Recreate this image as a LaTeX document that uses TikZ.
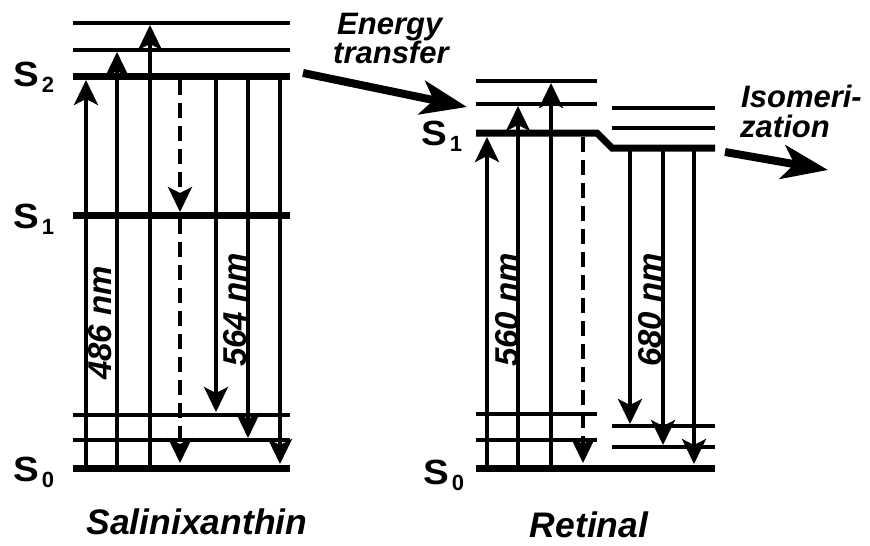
\documentclass[tikz,border=0pt]{standalone}
\usepackage{fontspec}
\setmainfont{Liberation Sans}
\usetikzlibrary{arrows.meta}
\newcommand{\mySlab}[1]{\scalebox{1.1}[1]{S}\kern3pt\raisebox{-6pt}{\fontsize{22}{22}\selectfont #1}}
\begin{document}
\begin{tikzpicture}[x=1pt,y=-1pt,
  thicklevel/.style={line width=7pt},
  thinlevel/.style={line width=3.5pt},
  trans/.style={line width=3.5pt,-{Stealth[length=25pt,width=24pt,inset=6pt]}},
  dtrans/.style={trans,dash pattern=on 15pt off 8pt},
  bigarrow/.style={line width=8pt,-{Stealth[length=46pt,width=34pt,inset=12pt]}},
  lab/.style={font=\fontsize{31}{31}\selectfont\bfseries\itshape, inner sep=0pt},
  biglab/.style={font=\fontsize{35.5}{36}\selectfont\bfseries\itshape, inner sep=0pt},
  rotlab/.style={font=\fontsize{33}{33}\selectfont\bfseries\itshape, inner sep=0pt, rotate=90},
  slab/.style={font=\fontsize{35}{35}\selectfont\bfseries, inner sep=0pt, anchor=base west},
]
\useasboundingbox (0,0) rectangle (870,546);
% ---- Salinixanthin levels
\draw[thinlevel] (73,23) -- (290,23);
\draw[thinlevel] (73,50) -- (290,50);
\draw[thicklevel] (73,76) -- (290,76);
\draw[thicklevel] (73,215) -- (290,215);
\draw[thinlevel] (73,415) -- (290,415);
\draw[thinlevel] (73,440) -- (290,440);
\draw[thicklevel] (73,468) -- (290,468);
% transitions
\draw[trans] (86,468) -- (86,80);
\draw[trans] (117,468) -- (117,52);
\draw[trans] (150,468) -- (150,25);
\draw[dtrans] (180,80) -- (180,212);
\draw[dtrans] (180,219) -- (180,463);
\draw[trans] (216,76) -- (216,412);
\draw[trans] (248,76) -- (248,438);
\draw[trans] (280,76) -- (280,464);
% ---- Retinal levels
\draw[thinlevel] (476,81) -- (597,81);
\draw[thinlevel] (476,104) -- (597,104);
\draw[thicklevel] (476,133) -- (597,133) -- (612,148) -- (715,148);
\draw[thinlevel] (612,108) -- (715,108);
\draw[thinlevel] (612,128) -- (715,128);
\draw[thinlevel] (476,414) -- (597,414);
\draw[thinlevel] (476,440) -- (597,440);
\draw[thinlevel] (612,426) -- (715,426);
\draw[thinlevel] (612,447) -- (715,447);
\draw[thicklevel] (476,468) -- (715,468);
% transitions
\draw[trans] (487,468) -- (487,137);
\draw[trans] (518,468) -- (518,106);
\draw[trans] (551,468) -- (551,83);
\draw[dtrans] (583,137) -- (583,463);
\draw[trans] (630,148) -- (630,424);
\draw[trans] (663,148) -- (663,445);
\draw[trans] (694,148) -- (694,464);
% ---- big arrows
\coordinate (et1) at (303,73);
\coordinate (et2) at (467,107);
\coordinate (is1) at (725,152);
\coordinate (is2) at (828,170);
\draw[bigarrow] (et1) -- (et2);
\draw[bigarrow] (is1) -- (is2);
% ---- labels
\node[lab, anchor=base west] (en) at (337,34) {Energy};
\node[lab, anchor=base west] (tr) at (333,63) {transfer};
\node[lab, anchor=base west] (iso) at (741,107) {Isomeri-};
\node[lab, anchor=base west] (zat) at (740,137) {zation};
\node[biglab, anchor=base] (sal) at (197,534) {Salinixanthin};
\node[biglab, anchor=base] (ret) at (589,537) {Retinal};
\node[rotlab] (l486) at (100,323) {486 nm};
\node[rotlab] (l564) at (235,310) {564 nm};
\node[rotlab] (l560) at (507,310) {560 nm};
\node[rotlab] (l680) at (650,310) {680 nm};
\node[slab] (s2) at (13,86) {\mySlab{2}};
\node[slab] (s1) at (13,228) {\mySlab{1}};
\node[slab] (s0) at (13,481) {\mySlab{0}};
\node[slab] (rs1) at (421,145) {\mySlab{1}};
\node[slab] (rs0) at (423,484) {\mySlab{0}};
\end{tikzpicture}
\end{document}
